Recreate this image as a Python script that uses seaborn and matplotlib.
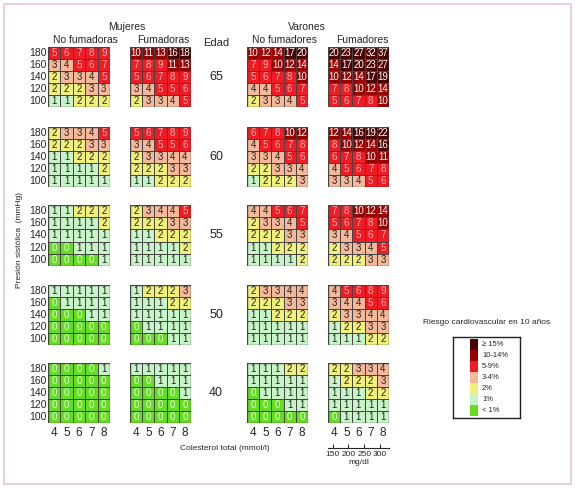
import numpy as np
import matplotlib
matplotlib.use("Agg")
import matplotlib.pyplot as plt
from matplotlib.colors import ListedColormap, BoundaryNorm
from matplotlib.patches import Rectangle
import seaborn as sns

sns.set_style("white")
plt.rcParams['font.family'] = ['Liberation Sans', 'DejaVu Sans']

ages = [65, 60, 55, 50, 40]
sbp = [180, 160, 140, 120, 100]
chol = [4, 5, 6, 7, 8]
mgdl = [150, 200, 250, 300]

women_ns = {
    65: [[5,6,7,8,9],[3,4,5,6,7],[2,3,3,4,5],[2,2,2,3,3],[1,1,2,2,2]],
    60: [[2,3,3,4,5],[2,2,2,3,3],[1,1,2,2,2],[1,1,1,1,2],[1,1,1,1,1]],
    55: [[1,1,2,2,2],[1,1,1,1,2],[1,1,1,1,1],[0,0,1,1,1],[0,0,0,0,1]],
    50: [[1,1,1,1,1],[0,1,1,1,1],[0,0,0,1,1],[0,0,0,0,0],[0,0,0,0,0]],
    40: [[0,0,0,0,1],[0,0,0,0,0],[0,0,0,0,0],[0,0,0,0,0],[0,0,0,0,0]],
}
women_s = {
    65: [[10,11,13,16,18],[7,8,9,11,13],[5,6,7,8,9],[3,4,5,5,6],[2,3,3,4,5]],
    60: [[5,6,7,8,9],[3,4,5,5,6],[2,3,3,4,4],[2,2,2,3,3],[1,1,2,2,2]],
    55: [[2,3,4,4,5],[2,2,2,3,3],[1,1,2,2,2],[1,1,1,1,2],[1,1,1,1,1]],
    50: [[1,2,2,2,3],[1,1,1,2,2],[1,1,1,1,1],[0,1,1,1,1],[0,0,0,1,1]],
    40: [[1,1,1,1,1],[0,0,1,1,1],[0,0,0,0,1],[0,0,0,0,0],[0,0,0,0,0]],
}
men_ns = {
    65: [[10,12,14,17,20],[7,9,10,12,14],[5,6,7,8,10],[4,4,5,6,7],[2,3,3,4,5]],
    60: [[6,7,8,10,12],[4,5,6,7,8],[3,3,4,5,6],[2,2,3,3,4],[1,2,2,2,3]],
    55: [[4,4,5,6,7],[2,3,3,4,5],[2,2,2,3,3],[1,1,2,2,2],[1,1,1,1,2]],
    50: [[2,3,3,4,4],[2,2,2,3,3],[1,1,2,2,2],[1,1,1,1,1],[1,1,1,1,1]],
    40: [[1,1,1,2,2],[1,1,1,1,1],[0,1,1,1,1],[0,0,0,1,1],[0,0,0,0,0]],
}
men_s = {
    65: [[20,23,27,32,37],[14,17,20,23,27],[10,12,14,17,19],[7,8,10,12,14],[5,6,7,8,10]],
    60: [[12,14,16,19,22],[8,10,12,14,16],[6,7,8,10,11],[4,5,6,7,8],[3,3,4,5,6]],
    55: [[7,8,10,12,14],[5,6,7,8,10],[3,4,5,6,7],[2,3,3,4,5],[2,2,2,3,3]],
    50: [[4,5,6,8,9],[3,4,4,5,6],[2,3,3,4,4],[1,2,2,3,3],[1,1,1,2,2]],
    40: [[2,2,3,3,4],[1,2,2,2,3],[1,1,1,2,2],[1,1,1,1,1],[0,1,1,1,1]],
}

colors = ['#66dd22', '#c8f5c8', '#f0f07a', '#f5b89a', '#ee1c24', '#990000', '#4a0000']
bounds = [-0.5, 0.5, 1.5, 2.5, 4.5, 9.5, 14.5, 100]
legend_labels = ['< 1%', '1%', '2%', '3-4%', '5-9%', '10-14%', '\u2265 15%']
cmap = ListedColormap(colors)
norm = BoundaryNorm(bounds, cmap.N)

W, H = 575, 488
fig = plt.figure(figsize=(W/100, H/100), dpi=100)

def box(x0, y0, x1, y1):
    return [x0/W, 1 - y1/H, (x1-x0)/W, (y1-y0)/H]

def ftext(x, y, s, **kw):
    fig.text(x/W, 1 - y/H, s, **kw)

panel_x = [(48, 110), (130, 191), (247, 308), (328, 389)]
row_y = [(47, 107), (127, 187), (205, 266), (285, 345), (363, 423)]
groups = [women_ns, women_s, men_ns, men_s]

def txtcolor(v):
    if v == 0:
        return '#e8ffe0'
    if v >= 10:
        return 'white'
    if v >= 5:
        return '#ffb0b0'
    return '#222222'

for ri, age in enumerate(ages):
    y0, y1 = row_y[ri]
    for gi, g in enumerate(groups):
        x0, x1 = panel_x[gi]
        ax = fig.add_axes(box(x0, y0, x1, y1))
        data = np.array(g[age])
        sns.heatmap(data, ax=ax, cmap=cmap, norm=norm, cbar=False,
                    linewidths=0.7, linecolor='#444444', square=False)
        for i in range(5):
            for j in range(5):
                v = data[i, j]
                ax.text(j + 0.5, i + 0.5, str(v), ha='center', va='center',
                        fontsize=7, color=txtcolor(v))
        ax.add_patch(Rectangle((0, 0), 5, 5, fill=False, ec='#444444', lw=1))
        ax.set_xticks([]); ax.set_yticks([])
        if gi == 0:
            ax.set_yticks(np.arange(5) + 0.5)
            ax.set_yticklabels(sbp, fontsize=7.5, rotation=0)
            ax.tick_params(axis='y', length=0, pad=1)
        if ri == len(ages) - 1:
            ax.set_xticks(np.arange(5) + 0.5)
            ax.set_xticklabels(chol, fontsize=8.5)
            ax.tick_params(axis='x', length=0, pad=3)
            if gi == 3:
                sec = ax.secondary_xaxis(-0.42, functions=(
                    lambda x: (x - 0.5 + 4) * 38.67, lambda m: m / 38.67 - 4 + 0.5))
                sec.set_xticks(mgdl)
                sec.set_xticklabels([str(m) for m in mgdl], fontsize=6)
                sec.tick_params(axis='x', direction='in', length=3, pad=2)
                sec.spines['bottom'].set_linewidth(0.8)
                sec.set_xlabel('mg/dl', fontsize=6, labelpad=1)
    ftext(216, (y0 + y1) / 2, str(age), ha='center', va='center', fontsize=9)

ftext(127, 27, 'Mujeres', ha='center', va='center', fontsize=7.5)
ftext(85, 40, 'No fumadoras', ha='center', va='center', fontsize=7.5)
ftext(163, 40, 'Fumadoras', ha='center', va='center', fontsize=7.5)
ftext(216, 43, 'Edad', ha='center', va='center', fontsize=8)
ftext(307, 27, 'Varones', ha='center', va='center', fontsize=7.5)
ftext(284, 40, 'No fumadores', ha='center', va='center', fontsize=7.5)
ftext(362, 40, 'Fumadores', ha='center', va='center', fontsize=7.5)
ftext(20, 240, 'Presión sistólica  (mmHg)', ha='center', va='center', fontsize=6, rotation=90)
ftext(225, 448, 'Colesterol total (mmol/l)', ha='center', va='center', fontsize=6)

# legend
ftext(487, 322, 'Riesgo cardiovascular en 10 años', ha='center', va='center', fontsize=6)
lax = fig.add_axes(box(453, 337, 520, 418))
lax.set_xlim(0, 67); lax.set_ylim(81, 0)
lax.set_xticks([]); lax.set_yticks([])
for s in lax.spines.values():
    s.set_linewidth(1); s.set_color('#222222')
n = len(colors)
for k in range(n):
    idx = n - 1 - k
    lax.add_patch(Rectangle((17, 2 + k * 11), 8, 11, fc=colors[idx], ec='none'))
    lax.text(29, 2 + k * 11 + 5.5, legend_labels[idx], va='center', fontsize=5.5)

# outer frame
fig.patches.append(Rectangle((4/W, 4/H), (W-8)/W, (H-8)/H, transform=fig.transFigure,
                             fill=False, ec='#e8c8d0', lw=1.2))

fig.savefig('out.png', dpi=100)
